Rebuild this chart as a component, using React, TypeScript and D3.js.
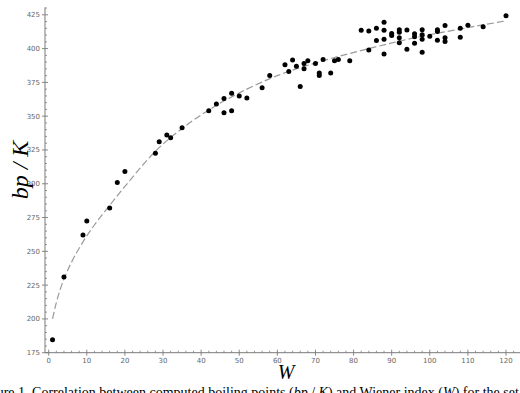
import React from "react";
import * as d3 from "d3";

// Wiener index (W) and boiling point (bp / K)
const W: number[] = [1, 4, 9, 10, 16, 18, 20, 28, 29, 31, 32, 35, 42, 44, 46, 46, 48, 48, 50, 52, 56, 58, 62, 63, 64, 65, 66, 67, 67, 68, 70, 71, 71, 72, 74, 75, 76, 79, 82, 84, 84, 86, 86, 88, 88, 88, 88, 90, 90, 92, 92, 92, 92, 94, 94, 96, 96, 96, 98, 98, 98, 98, 100, 102, 102, 102, 104, 104, 104, 108, 108, 110, 114, 120];
const BP: number[] = [184.5, 231, 262, 272.5, 282, 301, 309, 322.5, 331, 336, 334, 341.5, 354, 359, 363, 352.5, 367, 354, 365, 363.5, 371, 380, 388, 383, 391.5, 387, 372, 389, 385, 391, 389, 382, 380, 392, 382, 391, 392, 391, 413.5, 413, 399, 415, 406, 419.5, 413.5, 407, 396, 411.2, 409.6, 414, 412, 408, 404.3, 413.7, 399.6, 411, 408.7, 404, 414, 410.3, 407, 397.2, 409.2, 413.9, 412.7, 406.1, 417, 408, 405.2, 415, 408.3, 417.2, 416.2, 424.3];

// fitted trend line
const FIT_W: number[] = [1, 2, 4, 6, 9, 12, 16, 20, 28, 36, 44, 52, 60, 72, 84, 96, 108, 120];
const FIT_BP: number[] = [200, 212, 229.5, 242, 257, 269.5, 284, 298, 324, 343, 358, 370, 380, 391, 400, 408, 414.5, 420.5];

const X_TICKS: number[] = [0, 10, 20, 30, 40, 50, 60, 70, 80, 90, 100, 110, 120];
const Y_TICKS: number[] = [175, 200, 225, 250, 275, 300, 325, 350, 375, 400, 425];

const CAPTION_PRE = "Figure 1. Correlation between computed boiling points (";
const CAPTION_MID = ") and Wiener index (";
const CAPTION_POST = ") for the set";

export default function App() {
  const width = 520;
  const height = 393;
  const x = d3.scaleLinear().domain([0, 120]).range([48.7, 506]);
  const y = d3.scaleLinear().domain([175, 425]).range([352.7, 14.8]);
  const axisX = x(-0.97);
  const axisY = y(175);
  const xMinor = d3.range(0, 124, 2).filter((v) => v % 10 !== 0);
  const yMinor = d3.range(175, 431, 5).filter((v) => v % 25 !== 0);

  const line = d3
    .line<number>()
    .x((_, i) => x(FIT_W[i]))
    .y((d) => y(d))
    .curve(d3.curveMonotoneX);

  const axisColor = "#7a7a7a";
  const labelColor = "#666";

  return (
    <svg
      width={width}
      height={height}
      style={{ position: "absolute", left: 0, top: 0, background: "#fff" }}
    >
      {/* axes */}
      <line x1={axisX} x2={axisX} y1={y(430.5)} y2={axisY} stroke={axisColor} strokeWidth={1} />
      <line x1={axisX} x2={x(125)} y1={axisY} y2={axisY} stroke={axisColor} strokeWidth={1} />

      {yMinor.map((v) => (
        <line key={"ym" + v} x1={axisX} x2={axisX + 2} y1={y(v)} y2={y(v)} stroke={axisColor} strokeWidth={0.8} />
      ))}
      {xMinor.map((v) => (
        <line key={"xm" + v} x1={x(v)} x2={x(v)} y1={axisY} y2={axisY - 2} stroke={axisColor} strokeWidth={0.8} />
      ))}
      {Y_TICKS.map((v) => (
        <g key={"yt" + v}>
          <line x1={axisX - 3} x2={axisX + 3} y1={y(v)} y2={y(v)} stroke={axisColor} strokeWidth={0.9} />
          <text
            x={axisX - 5}
            y={y(v)}
            dy="0.35em"
            textAnchor="end"
            fontFamily="DejaVu Sans"
            fontSize={7}
            fill={labelColor}
          >
            {v}
          </text>
        </g>
      ))}
      {X_TICKS.map((v) => (
        <g key={"xt" + v}>
          <line x1={x(v)} x2={x(v)} y1={axisY - 3} y2={axisY + 3} stroke={axisColor} strokeWidth={0.9} />
          <text
            x={x(v)}
            y={axisY + 10}
            textAnchor="middle"
            fontFamily="DejaVu Sans"
            fontSize={7}
            fill={labelColor}
          >
            {v}
          </text>
        </g>
      ))}

      {/* fit line */}
      <path
        d={line(FIT_BP) || ""}
        fill="none"
        stroke="#9a9a9a"
        strokeWidth={1.2}
        strokeDasharray="7,3"
      />

      {/* points */}
      {W.map((w, i) => (
        <circle key={"p" + i} cx={x(w)} cy={y(BP[i])} r={2.5} fill="#000" />
      ))}

      {/* axis titles */}
      <text
        transform={`translate(28,170) rotate(-90)`}
        textAnchor="middle"
        fontFamily="Liberation Serif"
        fontStyle="italic"
        fontSize={24}
        fill="#000"
      >
        bp / K
      </text>
      <text
        x={286}
        y={379}
        textAnchor="middle"
        fontFamily="Liberation Serif"
        fontStyle="italic"
        fontSize={20}
        fill="#000"
      >
        W
      </text>

      {/* caption (cut off at bottom) */}
      <text x={-22} y={397} fontFamily="Liberation Serif" fontSize={14} fill="#000">
        {CAPTION_PRE}
        <tspan fontStyle="italic">bp</tspan> / <tspan fontStyle="italic">K</tspan>
        {CAPTION_MID}
        <tspan fontStyle="italic">W</tspan>
        {CAPTION_POST}
      </text>
    </svg>
  );
}
